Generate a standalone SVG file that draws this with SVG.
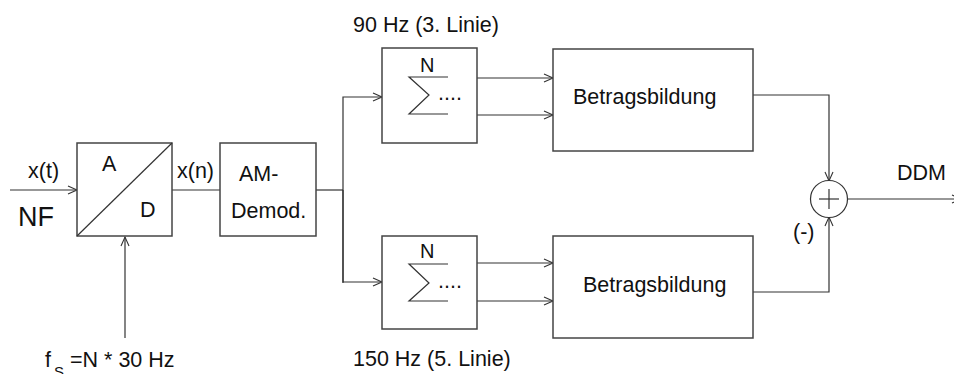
<svg xmlns="http://www.w3.org/2000/svg" width="954" height="374" viewBox="0 0 954 374">
<style>
.box{fill:#fff;stroke:#444;stroke-width:1.5}
.ln{fill:none;stroke:#333;stroke-width:1.2}
.t{font-family:"Liberation Sans",Arial,sans-serif;font-size:21.5px;fill:#111}
.n{font-size:20px}
</style>
<defs>
<marker id="ah" markerWidth="12" markerHeight="10" refX="10" refY="5" orient="auto" markerUnits="userSpaceOnUse">
<polyline points="1,1 10,5 1,9" fill="none" stroke="#333" stroke-width="1.1"/>
</marker>
</defs>
<rect width="954" height="374" fill="#fff"/>
<g id="connectors">
<line class="ln" x1="10" y1="190" x2="77" y2="190" marker-end="url(#ah)"/>
<line class="ln" x1="125" y1="338" x2="125" y2="237" marker-end="url(#ah)"/>
<line class="ln" x1="172" y1="190" x2="220" y2="190"/>
<polyline class="ln" points="316,190 343,190"/>
<polyline class="ln" points="343,283 343,97 382,97" marker-end="url(#ah)"/>
<polyline class="ln" points="343,190 343,282 382,282" marker-end="url(#ah)"/>
<line class="ln" x1="477" y1="78" x2="553" y2="78" marker-end="url(#ah)"/>
<line class="ln" x1="477" y1="115" x2="553" y2="115" marker-end="url(#ah)"/>
<line class="ln" x1="477" y1="263" x2="553" y2="263" marker-end="url(#ah)"/>
<line class="ln" x1="477" y1="301" x2="553" y2="301" marker-end="url(#ah)"/>
<polyline class="ln" points="753,95 829,95 829,181" marker-end="url(#ah)"/>
<polyline class="ln" points="753,292 829,292 829,217" marker-end="url(#ah)"/>
<line class="ln" x1="848" y1="199" x2="961" y2="199" marker-end="url(#ah)"/>
</g>
<g id="labels">
<text class="t" x="28" y="178">x(t)</text>
<text class="t" x="18" y="226" style="font-size:27px">NF</text>
<text class="t" x="177" y="178">x(n)</text>
<text class="t" x="353" y="32">90 Hz (3. Linie)</text>
<text class="t" x="353" y="366">150 Hz (5. Linie)</text>
<text class="t" x="897" y="180">DDM</text>
<text class="t" x="793" y="239">(-)</text>
<text class="t" x="45" y="367">f</text>
<text class="t" x="54" y="377" style="font-size:15px">S</text>
<text class="t" x="70" y="367">=N * 30 Hz</text>
</g>
<g id="ad">
<rect class="box" x="77" y="143" width="95" height="93"/>
<line class="ln" x1="77" y1="236" x2="172" y2="143"/>
<text class="t" x="102" y="171">A</text>
<text class="t" x="140" y="217">D</text>
</g>
<g id="amdemod">
<rect class="box" x="220" y="143" width="96" height="93"/>
<text class="t" x="239" y="181">AM-</text>
<text class="t" x="231" y="218">Demod.</text>
</g>
<g id="sum90">
<rect class="box" x="382" y="48" width="95" height="95"/>
<text class="t n" x="420" y="72">N</text>
<polyline class="ln" points="448,77 409,77 429,95 409,114 448,114"/>
<text class="t" x="438" y="100">....</text>
</g>
<g id="sum150">
<rect class="box" x="382" y="236" width="95" height="93"/>
<text class="t n" x="420" y="258">N</text>
<polyline class="ln" points="448,264 409,264 429,283 409,301 448,301"/>
<text class="t" x="438" y="288">....</text>
</g>
<g id="betrag90">
<rect class="box" x="553" y="49" width="200" height="102"/>
<text class="t" x="573" y="104">Betragsbildung</text>
</g>
<g id="betrag150">
<rect class="box" x="553" y="236" width="200" height="102"/>
<text class="t" x="583" y="292">Betragsbildung</text>
</g>
<g id="adder">
<circle cx="829" cy="199" r="18.5" fill="#fff" stroke="#333" stroke-width="1.2"/>
<line class="ln" x1="819" y1="199" x2="839" y2="199"/>
<line class="ln" x1="829" y1="189" x2="829" y2="209"/>
</g>
</svg>
